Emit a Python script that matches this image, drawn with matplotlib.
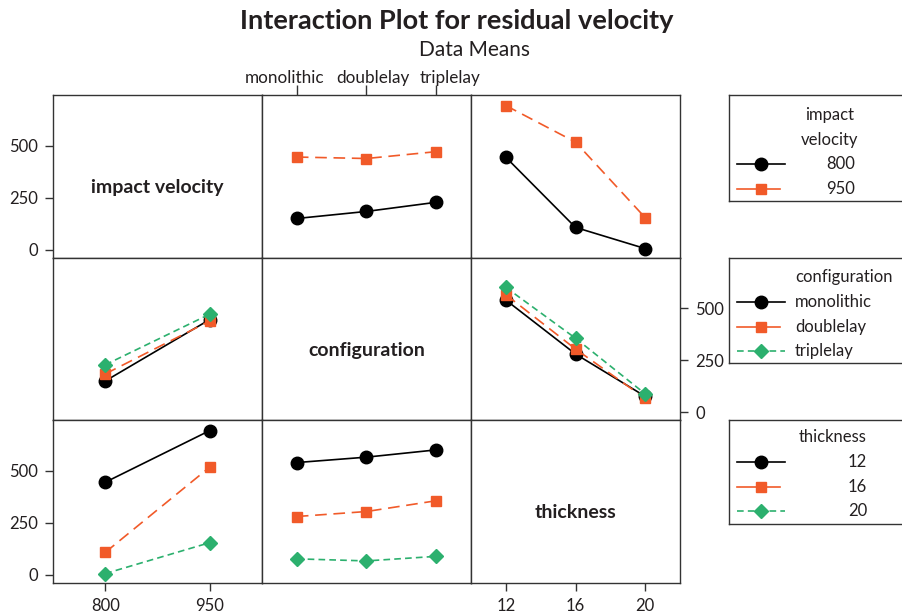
import matplotlib
matplotlib.use("Agg")
import matplotlib.pyplot as plt
from matplotlib.transforms import ScaledTranslation

plt.rcParams['font.family'] = ['Lato', 'DejaVu Sans']

# factor levels
iv_levels = [800, 950]
config_levels = ['monolithic', 'doublelay', 'triplelay']
thick_levels = [12, 16, 20]

# data means (rows = trace factor, cols = x factor)
iv_by_config = [[150, 184, 228],
                [446, 439, 472]]
iv_by_thick = [[445, 107, 5],
               [694, 518, 154]]
config_by_thick = [[540, 280, 76],
                   [566, 304, 66],
                   [601, 356, 88]]

BLACK = '#000000'
ORANGE = '#F15A29'
GREEN = '#2CB06E'
styles = [dict(color=BLACK, marker='o', ms=9, ls='-', lw=1.2),
          dict(color=ORANGE, marker='s', ms=7.5, ls=(0, (7, 4)), lw=1.2),
          dict(color=GREEN, marker='D', ms=7, ls=(0, (4, 2.5)), lw=1.2)]
TXT = '#231F20'

W, H = 903, 612
fig = plt.figure(figsize=(W / 100, H / 100), dpi=100)

col_x = [53, 262, 471]
row_y = [95, 257.5, 420]
pw, ph = 209, 162.5
ylim = (-38, 745)
xlims = [(725, 1025), (0.5, 3.5), (10, 22)]
xpos = [iv_levels, [1, 2, 3], thick_levels]
names = ['impact velocity', 'configuration', 'thickness']


def make_ax(r, c):
    ax = fig.add_axes([col_x[c] / W, 1 - (row_y[r] + ph) / H, pw / W, ph / H])
    ax.set_xlim(*xlims[c])
    ax.set_ylim(*ylim)
    ax.set_xticks([])
    ax.set_yticks([])
    for s in ax.spines.values():
        s.set_color('#333333')
        s.set_linewidth(1.0)
    return ax


def draw(ax, xs, series):
    for i, ys in enumerate(series):
        ax.plot(xs, ys, **styles[i])


axes = {}
for r in range(3):
    for c in range(3):
        ax = make_ax(r, c)
        axes[(r, c)] = ax
        if r == c:
            ax.text(0.5, 0.5 - 11.5 / ph, names[r], transform=ax.transAxes,
                    ha='center', va='center', fontsize=14, fontweight='bold',
                    color=TXT)

# plotted panels
draw(axes[(0, 1)], xpos[1], iv_by_config)
draw(axes[(0, 2)], xpos[2], iv_by_thick)
draw(axes[(1, 0)], xpos[0], [list(t) for t in zip(*iv_by_config)])
draw(axes[(1, 2)], xpos[2], config_by_thick)
draw(axes[(2, 0)], xpos[0], [list(t) for t in zip(*iv_by_thick)])
draw(axes[(2, 1)], xpos[1], [list(t) for t in zip(*config_by_thick)])

# ticks
yt = [0, 250, 500]
axes[(0, 0)].set_yticks(yt)
axes[(2, 0)].set_yticks(yt)
axes[(1, 2)].yaxis.tick_right()
axes[(1, 2)].set_yticks(yt)
axes[(2, 0)].set_xticks(iv_levels)
axes[(2, 2)].set_xticks(thick_levels)
ax = axes[(0, 1)]
ax.xaxis.tick_top()
ax.set_xticks([1, 2, 3])
ax.set_xticklabels(config_levels)
for a in axes.values():
    a.tick_params(direction='out', length=6, width=1, color='#333333',
                  labelsize=12, pad=5, labelcolor=TXT)
ax.tick_params(axis='x', length=7, pad=3, labelsize=12.3)
for lab, dx in zip(ax.get_xticklabels(), [-12, 6, 14]):
    lab.set_transform(lab.get_transform() + ScaledTranslation(dx / 100, -5 / 100, fig.dpi_scale_trans))

# title
fig.text(457 / W, 1 - 21 / H, 'Interaction Plot for residual velocity',
         ha='center', va='center', fontsize=19.5, fontweight='bold', color=TXT)
fig.text(475 / W, 1 - 50 / H, 'Data Means', ha='center', va='center',
         fontsize=15, color=TXT)

# legends
leg_boxes = [(95.5, 201), (258, 363), (420, 524)]
lx0, lx1 = 729, 915
leg_labels = [['800', '950'], config_levels, ['12', '16', '20']]


def px(x, y, top, bot):
    return (x - lx0) / (lx1 - lx0), (bot - y) / (bot - top)


for k, (top, bot) in enumerate(leg_boxes):
    lax = fig.add_axes([lx0 / W, 1 - bot / H, (lx1 - lx0) / W, (bot - top) / H])
    lax.set_xlim(0, 1)
    lax.set_ylim(0, 1)
    lax.set_xticks([])
    lax.set_yticks([])
    for s in lax.spines.values():
        s.set_color('#333333')
        s.set_linewidth(1.0)
    if k == 0:
        lax.text(*px(830, 115, top, bot), 'impact', ha='center', va='center', fontsize=12, color=TXT)
        lax.text(*px(830, 140, top, bot), 'velocity', ha='center', va='center', fontsize=12, color=TXT)
        rows_y = [164, 189]
        tx, ha = 855, 'right'
    elif k == 1:
        lax.text(*px(795, 277, top, bot), 'configuration', ha='left', va='center', fontsize=12, color=TXT)
        rows_y = [302, 327, 351]
        tx, ha = 795, 'left'
    else:
        lax.text(*px(833, 437, top, bot), 'thickness', ha='center', va='center', fontsize=12, color=TXT)
        rows_y = [462, 487, 511]
        tx, ha = 867, 'right'
    for i, lab in enumerate(leg_labels[k]):
        x0, y0 = px(737, rows_y[i], top, bot)
        x1, _ = px(785 if i != 1 else 780, rows_y[i], top, bot)
        xm, _ = px(761, rows_y[i], top, bot)
        st = styles[i]
        lax.plot([x0, x1], [y0, y0], color=st['color'],
                 ls='-' if i == 1 else st['ls'], lw=st['lw'])
        lax.plot([xm], [y0], color=st['color'], marker=st['marker'], ms=st['ms'], ls='none')
        lax.text(*px(tx, rows_y[i], top, bot), lab, ha=ha, va='center', fontsize=12, color=TXT)

fig.savefig('out.png', dpi=100)
